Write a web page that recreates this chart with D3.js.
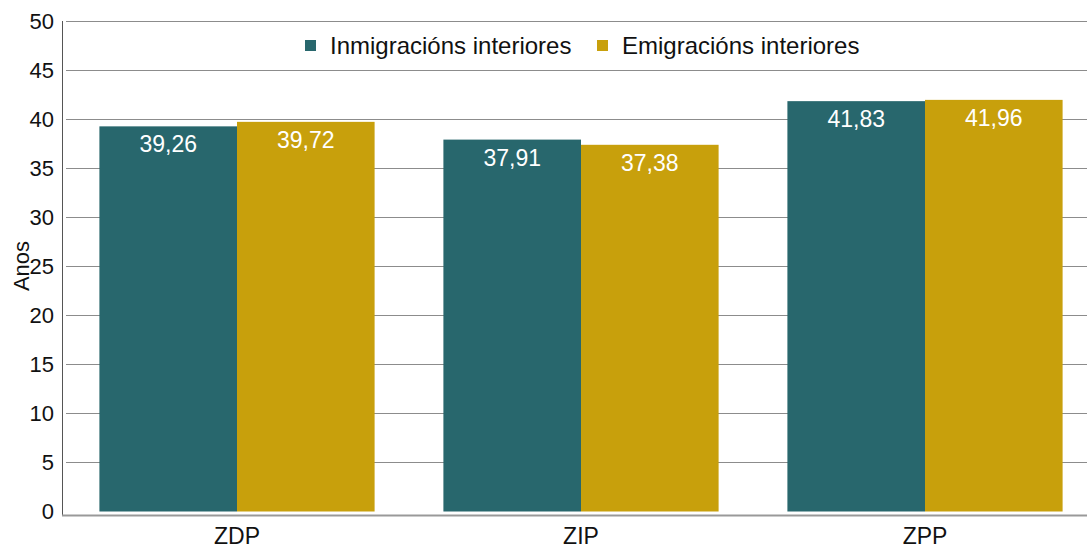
<!DOCTYPE html>
<html>
<head>
<meta charset="utf-8">
<script src="https://cdn.jsdelivr.net/npm/d3@7"></script>
<style>
  html, body { margin: 0; padding: 0; background: #fff; }
  svg { display: block; font-family: "Liberation Sans", Arial, sans-serif; }
</style>
</head>
<body>
<div id="chart"></div>
<script>
// Data
const zones = ['ZDP', 'ZIP', 'ZPP'];
const seriesNames = ['Inmigracións interiores', 'Emigracións interiores'];
const inmigracions = [39.26, 37.91, 41.83];
const emigracions = [39.72, 37.38, 41.96];
const yTicks = [0, 5, 10, 15, 20, 25, 30, 35, 40, 45, 50];

const colors = ['#28676d', '#c8a00c'];

const width = 1087, height = 550;
const svg = d3.select('#chart').append('svg')
    .attr('width', width)
    .attr('height', height);

// Scales
const y = d3.scaleLinear().domain([0, 50]).range([511.5, 21]);
const x0 = d3.scaleBand().domain(zones).range([65, 1097]).paddingInner(0.2).paddingOuter(0.1);
const x1 = d3.scaleBand().domain([0, 1]).range([0, x0.bandwidth()]);

// Gridlines
svg.append('g')
    .selectAll('line')
    .data(yTicks.filter(d => d > 0))
    .enter()
    .append('line')
    .attr('x1', 66)
    .attr('x2', width)
    .attr('y1', d => Math.round(y(d)) + 0.5)
    .attr('y2', d => Math.round(y(d)) + 0.5)
    .attr('stroke', '#8c8c8c')
    .attr('stroke-width', 1);

// Y tick labels
svg.append('g')
    .selectAll('text')
    .data(yTicks)
    .enter()
    .append('text')
    .attr('x', 54)
    .attr('y', d => y(d))
    .attr('text-anchor', 'end')
    .attr('dominant-baseline', 'central')
    .attr('font-size', '22px')
    .attr('fill', '#111')
    .text(d => d);

// Bars
const rows = zones.map((z, i) => ({ zone: z, values: [inmigracions[i], emigracions[i]] }));
const groups = svg.append('g')
    .selectAll('g')
    .data(rows)
    .enter()
    .append('g')
    .attr('transform', d => `translate(${x0(d.zone)},0)`);

groups.selectAll('rect')
    .data(d => d.values.map((v, k) => ({ k, v })))
    .enter()
    .append('rect')
    .attr('x', d => x1(d.k))
    .attr('y', d => y(d.v))
    .attr('width', x1.bandwidth())
    .attr('height', d => y(0) - y(d.v))
    .attr('fill', d => colors[d.k]);

groups.selectAll('text')
    .data(d => d.values.map((v, k) => ({ k, v })))
    .enter()
    .append('text')
    .attr('x', d => x1(d.k) + x1.bandwidth() / 2)
    .attr('y', d => y(d.v) + 26)
    .attr('text-anchor', 'middle')
    .attr('font-size', '23px')
    .attr('fill', '#fff')
    .text(d => d.v.toFixed(2).replace('.', ','));

// Axes lines
svg.append('line')
    .attr('x1', 62.5).attr('x2', 62.5)
    .attr('y1', 21).attr('y2', 516)
    .attr('stroke', '#555').attr('stroke-width', 1);
svg.append('line')
    .attr('x1', 62).attr('x2', width)
    .attr('y1', 515.5).attr('y2', 515.5)
    .attr('stroke', '#999').attr('stroke-width', 2);

// X labels
svg.append('g')
    .selectAll('text')
    .data(zones)
    .enter()
    .append('text')
    .attr('x', d => x0(d) + x0.bandwidth() / 2)
    .attr('y', 544)
    .attr('text-anchor', 'middle')
    .attr('font-size', '23px')
    .attr('fill', '#111')
    .text(d => d);

// Y axis title
svg.append('text')
    .attr('transform', 'translate(29,266) rotate(-90)')
    .attr('text-anchor', 'middle')
    .attr('font-size', '22px')
    .attr('fill', '#111')
    .text('Anos');

// Legend
const legend = svg.append('g');
const legendX = [305, 597];
seriesNames.forEach((name, i) => {
    legend.append('rect')
        .attr('x', legendX[i]).attr('y', 40)
        .attr('width', 11).attr('height', 11)
        .attr('fill', colors[i]);
    legend.append('text')
        .attr('x', legendX[i] + 25).attr('y', 54)
        .attr('font-size', '24px')
        .attr('fill', '#111')
        .text(name);
});
</script>
</body>
</html>
